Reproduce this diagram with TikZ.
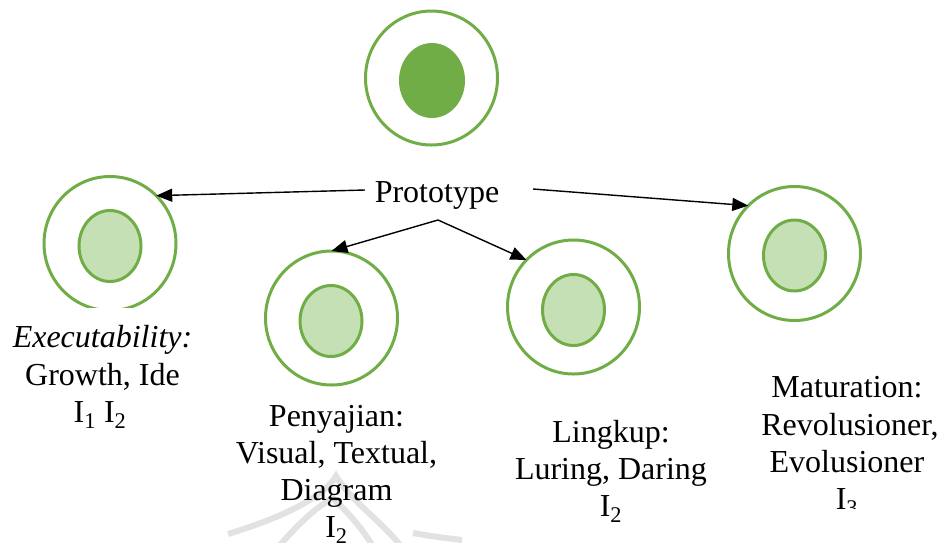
\documentclass[tikz,border=0pt]{standalone}
\usepackage{fontspec}
\newfontfamily\fa{Liberation Serif}
\newfontfamily\fai{Liberation Serif Italic}
\usetikzlibrary{shapes.geometric,arrows.meta}
\definecolor{leafgreen}{HTML}{70AD47}
\definecolor{palegreen}{HTML}{C5E0B4}
\definecolor{markgray}{HTML}{E2E2E2}
\begin{document}
\begin{tikzpicture}[x=1pt,y=-1pt,
  ring/.style={ellipse,draw=leafgreen,line width=3pt,inner sep=0pt,outer sep=0pt,
    minimum width=132pt,minimum height=134pt},
  core/.style={ellipse,draw=leafgreen,fill=palegreen,line width=3pt,inner sep=0pt,
    minimum width=62pt,minimum height=71pt},
  solidcore/.style={ellipse,fill=leafgreen,inner sep=0pt,minimum width=66pt,minimum height=75pt},
  txt/.style={font=\fontsize{32}{38}\selectfont\fa,inner sep=0pt,anchor=base},
  itxt/.style={font=\fontsize{32}{38}\selectfont\fai,inner sep=0pt,anchor=base},
  link/.style={line width=1.4pt,-{Triangle[length=16pt,width=13pt]}}]
\useasboundingbox (0,0) rectangle (950,542);

% faint background mark
\draw[markgray,line width=6pt]
  (228,534) .. controls (290,515) and (325,495) .. (336,476)
            .. controls (350,500) and (380,520) .. (400,545);
\draw[markgray,line width=6pt]
  (280,545) .. controls (300,522) and (318,506) .. (333,498)
            .. controls (345,510) and (360,525) .. (372,545);
\draw[markgray,line width=6pt] (413,533) .. controls (430,536) .. (462,540);

% top element
\node[ring] (top) at (431.5,78) {};
\node[solidcore] (topcore) at (432,80.5) {};

% centre label
\node[txt] (proto) at (437,202) {Prototype};
\coordinate (pL) at (365,190);
\coordinate (pR) at (533,189);
\coordinate (pD) at (438,220);

% four rings
\begin{scope}
  \clip (0,0) rectangle (950,307.5);
  \node[ring] (c1) at (110,243.5) {};
  \node[core] (k1) at (110,246) {};
\end{scope}
\node[ring] (c2) at (331.5,318) {};
\node[core] (k2) at (331,321) {};
\node[ring] (c3) at (573.5,307) {};
\node[core] (k3) at (573.5,310) {};
\node[ring] (c4) at (794.5,253.5) {};
\node[core] (k4) at (794.5,255.5) {};

% connectors
\draw[link] (pL) -- (c1.46);
\draw[link] (pR) -- (c4.134);
\draw[link] (pD) -- (c2.90);
\draw[link] (pD) -- (c3.135);

% labels
\node[itxt] (e1) at (102.5,347) {Executability:};
\node[txt] (e2) at (102.5,385) {Growth, Ide};
\node[txt] (e3) at (100,422) {I\textsubscript{1} I\textsubscript{2}};

\node[txt] (p1) at (336.5,426) {Penyajian:};
\node[txt] (p2) at (336.5,463) {Visual, Textual,};
\node[txt] (p3) at (336.5,500) {Diagram};
\node[txt] (p4) at (336.5,537) {I\textsubscript{2}};

\node[txt] (l1) at (611,442) {Lingkup:};
\node[txt] (l2) at (611,479) {Luring, Daring};
\node[txt] (l3) at (611,516) {I\textsubscript{2}};

\node[txt] (m1) at (847,397) {Maturation:};
\node[txt] (m2) at (850,435) {Revolusioner,};
\node[txt] (m3) at (847,472) {Evolusioner};
\begin{scope}
  \clip (700,0) rectangle (950,508);
  \node[txt] (m4) at (847,509) {I\textsubscript{3}};
\end{scope}
\end{tikzpicture}
\end{document}
